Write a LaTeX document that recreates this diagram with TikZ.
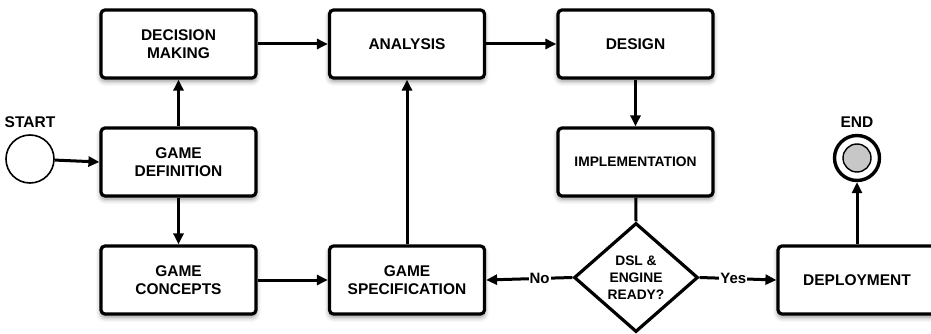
\documentclass[tikz,border=0pt]{standalone}
\usepackage{fontspec}
\setmainfont{Liberation Sans}
\usetikzlibrary{arrows.meta,shapes.geometric,shadows.blur}
\begin{document}
\begin{tikzpicture}[x=1pt,y=1pt,
  stepbox/.style={draw=black, line width=3.2pt, rounded corners=4pt, fill=white,
    minimum width=155pt, minimum height=68pt, align=center,
    font=\fontsize{15.5}{17.5}\selectfont\bfseries,
    blur shadow={shadow xshift=0pt, shadow yshift=-3pt, shadow blur radius=5pt, shadow opacity=45}},
  smallbox/.style={stepbox, font=\fontsize{13.8}{16}\selectfont\bfseries},
  decision/.style={diamond, draw=black, line width=3.2pt, fill=white, inner sep=0pt,
    minimum width=124pt, minimum height=109pt, aspect=1.14, align=center,
    font=\fontsize{13.8}{17}\selectfont\bfseries},
  flow/.style={line width=3pt, -{Triangle[length=11pt,width=10pt]}},
  plain/.style={line width=3pt},
  caption/.style={font=\fontsize{15.5}{17}\selectfont\bfseries},
  branch/.style={fill=white, inner sep=1pt, font=\fontsize{15}{17}\selectfont\bfseries}
]
\useasboundingbox (0,0) rectangle (931,-334);

% process steps
\node[stepbox] (dec)  at (178.5,-44)  {DECISION\\MAKING};
\node[stepbox] (ana)  at (407,-44)    {ANALYSIS};
\node[stepbox] (des)  at (635.5,-44)  {DESIGN};
\node[stepbox] (def)  at (178.5,-162) {GAME\\DEFINITION};
\node[smallbox] (imp) at (635.5,-162) {IMPLEMENTATION};
\node[stepbox] (con)  at (178.5,-280) {GAME\\CONCEPTS};
\node[stepbox] (spec) at (407,-280)   {GAME\\SPECIFICATION};
\node[stepbox, minimum width=158pt] (dep) at (857,-280) {DEPLOYMENT};
\node[decision] (rdy) at (636,-277.5) {DSL \&\\ENGINE\\READY?};

% start and end events
\node[circle, draw=black, line width=1.6pt, fill=white, minimum size=48pt, inner sep=0pt] (start) at (30,-159) {};
\node[caption] (startlbl) at (30,-122) {START};
\node[circle, draw=black, line width=3.4pt, fill=white, minimum size=45pt, inner sep=0pt] (end) at (857,-158) {};
\node[circle, draw=black, line width=1.4pt, fill=black!22, minimum size=28pt, inner sep=0pt] (endcore) at (end.center) {};
\node[caption] (endlbl) at (857,-122) {END};

% connectors
\draw[flow] (start) -- (def.west);
\draw[flow] (def) -- (dec);
\draw[flow] (def) -- (con);
\draw[flow] (dec) -- (ana);
\draw[flow] (ana) -- (des);
\draw[flow] (des) -- (imp);
\draw[plain] (imp) -- (rdy.north);
\draw[flow] (con) -- (spec);
\draw[flow] (spec) -- (ana);
\draw[flow] (rdy.west) -- node[branch, pos=0.38] {No} (spec.east);
\draw[flow] (rdy.east) -- node[branch, pos=0.44] {Yes} (dep.west);
\draw[flow] (dep.north -| end) -- (end.south);
\end{tikzpicture}
\end{document}
